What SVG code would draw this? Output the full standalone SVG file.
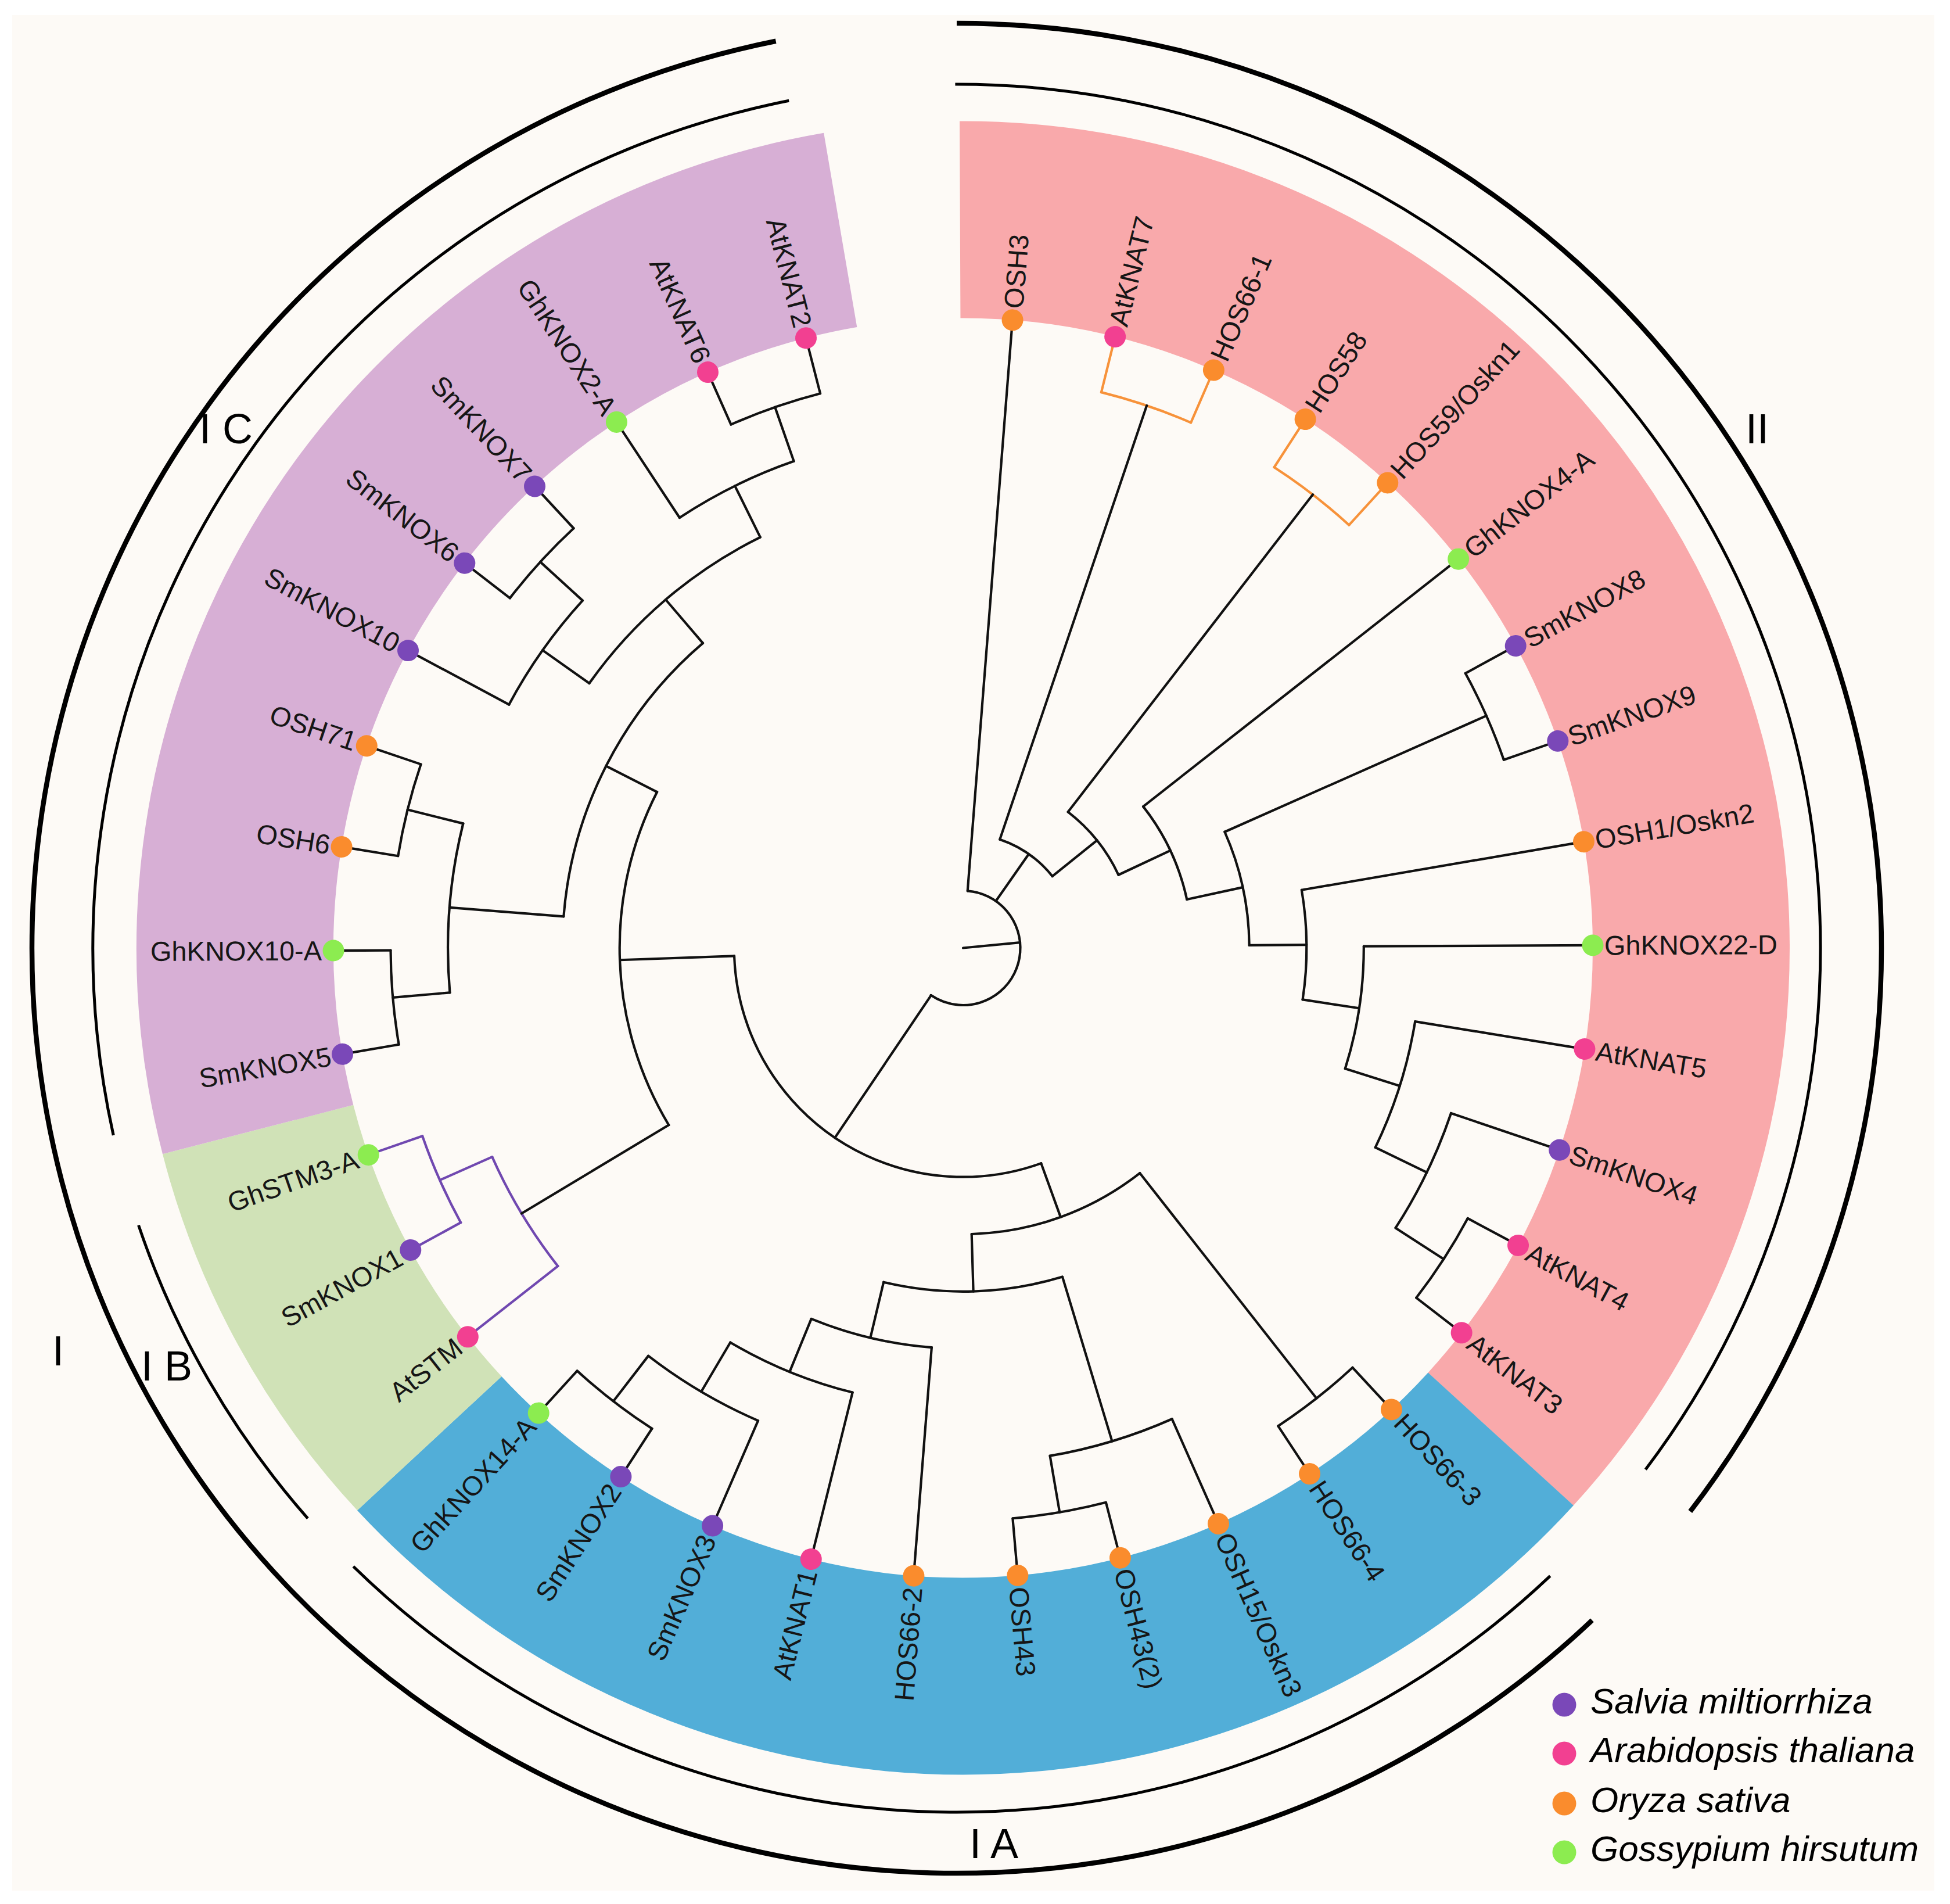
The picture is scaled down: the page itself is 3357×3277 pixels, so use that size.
<svg xmlns="http://www.w3.org/2000/svg" width="3357" height="3277" viewBox="0 0 3357 3277">
<style>
.br line,.br circle{fill:none;stroke:#111;stroke-width:4.2;stroke-linecap:round}
.br .or{stroke:#f7923a}
.br .pu{stroke:#7048b0}
.band{fill:none;stroke-width:339}
.ring{fill:none;stroke:#000}
.lb{font-family:'Liberation Sans',Arial,sans-serif;font-size:47px;fill:#161616;dominant-baseline:central}
.l{text-anchor:end}
.cl{font-family:'Liberation Sans',Arial,sans-serif;font-size:72px;fill:#000}
.lg{font-family:'Liberation Sans',Arial,sans-serif;font-size:62px;font-style:italic;fill:#000}
.sp{fill:#7a48b8}.at{fill:#f24091}.os{fill:#fa8c2d}.gh{fill:#8cec50}
</style>
<rect width="3357" height="3277" fill="#ffffff"/>
<rect x="21" y="26" width="3309" height="3228" fill="#fdfaf6"/>
<g id="bands" transform="translate(1658 1631.5)">
<circle class="band" r="1253.5" stroke="#f9a9ab" transform="rotate(-90.24)" stroke-dasharray="2901.9 99999"/>
<circle class="band" r="1253.5" stroke="#52aed8" transform="rotate(42.40)" stroke-dasharray="2072.5 99999"/>
<circle class="band" r="1253.5" stroke="#d0e2b7" transform="rotate(137.13)" stroke-dasharray="622.0 99999"/>
<circle class="band" r="1253.5" stroke="#d7afd5" transform="rotate(165.56)" stroke-dasharray="2072.5 99999"/>
</g>
<g id="rings" transform="translate(1647 1632)">
<circle class="ring" r="1592" stroke-width="8.5" transform="rotate(-90)" stroke-dasharray="3542.7 99999"/>
<circle class="ring" r="1592" stroke-width="8.5" transform="rotate(46.6)" stroke-dasharray="5893.4 99999"/>
<circle class="ring" r="1487" stroke-width="5" transform="rotate(-90.1)" stroke-dasharray="3301.2 99999"/>
<circle class="ring" r="1487" stroke-width="5" transform="rotate(46.6)" stroke-dasharray="2276.1 99999"/>
<circle class="ring" r="1487" stroke-width="5" transform="rotate(138.7)" stroke-dasharray="586.5 99999"/>
<circle class="ring" r="1487" stroke-width="5" transform="rotate(167.5)" stroke-dasharray="2369.5 99999"/>
</g>
<g id="clade-labels">
<text class="cl" x="3025" y="763" text-anchor="middle">II</text>
<text class="cl" x="1669" y="3198">I A</text>
<text class="cl" x="243" y="2376">I B</text>
<text class="cl" x="343" y="763">I C</text>
<text class="cl" x="90" y="2350">I</text>
</g>
<g id="connectors" class="br" transform="translate(1658 1631.5)">
<circle r="98.5" transform="rotate(-85.5)" stroke-dasharray="360.2 99999"/>
<circle r="197.1" transform="rotate(-71.29)" stroke-dasharray="111.87 99999"/>
<circle class="or" r="985.5" transform="rotate(-76.03)" stroke-dasharray="162.95 99999"/>
<circle r="295.6" transform="rotate(-52.35)" stroke-dasharray="140.17 99999"/>
<circle class="or" r="985.5" transform="rotate(-57.08)" stroke-dasharray="162.95 99999"/>
<circle r="394.2" transform="rotate(-38.13)" stroke-dasharray="178.19 99999"/>
<circle r="492.7" transform="rotate(-23.92)" stroke-dasharray="201.13 99999"/>
<circle r="985.5" transform="rotate(-28.66)" stroke-dasharray="162.95 99999"/>
<circle r="591.3" transform="rotate(-9.71)" stroke-dasharray="189.48 99999"/>
<circle r="689.8" transform="rotate(-0.24)" stroke-dasharray="213.94 99999"/>
<circle r="788.4" transform="rotate(9.24)" stroke-dasharray="228.14 99999"/>
<circle r="886.9" transform="rotate(18.71)" stroke-dasharray="219.96 99999"/>
<circle r="985.5" transform="rotate(28.18)" stroke-dasharray="162.95 99999"/>
<circle r="394.2" transform="rotate(70.08)" stroke-dasharray="742.42 99999"/>
<circle r="492.7" transform="rotate(51.87)" stroke-dasharray="313.18 99999"/>
<circle r="985.5" transform="rotate(47.13)" stroke-dasharray="162.95 99999"/>
<circle r="591.3" transform="rotate(73.19)" stroke-dasharray="311.56 99999"/>
<circle r="886.9" transform="rotate(66.08)" stroke-dasharray="219.96 99999"/>
<circle r="985.5" transform="rotate(75.55)" stroke-dasharray="162.95 99999"/>
<circle r="689.8" transform="rotate(94.50)" stroke-dasharray="213.82 99999"/>
<circle r="788.4" transform="rotate(103.97)" stroke-dasharray="228.14 99999"/>
<circle r="886.9" transform="rotate(113.45)" stroke-dasharray="219.96 99999"/>
<circle r="985.5" transform="rotate(122.92)" stroke-dasharray="162.95 99999"/>
<circle r="591.3" transform="rotate(148.98)" stroke-dasharray="598.77 99999"/>
<circle class="pu" r="886.9" transform="rotate(141.87)" stroke-dasharray="219.96 99999"/>
<circle class="pu" r="985.5" transform="rotate(151.34)" stroke-dasharray="162.95 99999"/>
<circle r="689.8" transform="rotate(184.50)" stroke-dasharray="541.77 99999"/>
<circle r="886.9" transform="rotate(175.03)" stroke-dasharray="293.18 99999"/>
<circle r="985.5" transform="rotate(170.29)" stroke-dasharray="162.95 99999"/>
<circle r="985.5" transform="rotate(189.24)" stroke-dasharray="162.95 99999"/>
<circle r="788.4" transform="rotate(215.29)" stroke-dasharray="391.06 99999"/>
<circle r="886.9" transform="rotate(208.18)" stroke-dasharray="219.96 99999"/>
<circle r="985.5" transform="rotate(217.66)" stroke-dasharray="162.95 99999"/>
<circle r="886.9" transform="rotate(236.61)" stroke-dasharray="219.96 99999"/>
<circle r="985.5" transform="rotate(246.08)" stroke-dasharray="162.95 99999"/>
<line x1="0" x2="98.5" transform="rotate(-5.5)"/>
<line x1="98.5" x2="1084" transform="rotate(-85.5)"/>
<line x1="98.5" x2="197.1" transform="rotate(-55.03)"/>
<line x1="98.5" x2="394.2" transform="rotate(124.04)"/>
<line x1="197.1" x2="985.5" transform="rotate(-71.29)"/>
<line x1="197.1" x2="295.6" transform="rotate(-38.77)"/>
<line class="or" x1="985.5" x2="1084" transform="rotate(-76.03)"/>
<line class="or" x1="985.5" x2="1084" transform="rotate(-66.55)"/>
<line x1="295.6" x2="985.5" transform="rotate(-52.35)"/>
<line x1="295.6" x2="394.2" transform="rotate(-25.18)"/>
<line class="or" x1="985.5" x2="1084" transform="rotate(-57.08)"/>
<line class="or" x1="985.5" x2="1084" transform="rotate(-47.61)"/>
<line x1="394.2" x2="1084" transform="rotate(-38.13)"/>
<line x1="394.2" x2="492.7" transform="rotate(-12.23)"/>
<line x1="492.7" x2="985.5" transform="rotate(-23.92)"/>
<line x1="492.7" x2="591.3" transform="rotate(-0.53)"/>
<line x1="985.5" x2="1084" transform="rotate(-28.66)"/>
<line x1="985.5" x2="1084" transform="rotate(-19.18)"/>
<line x1="591.3" x2="1084" transform="rotate(-9.71)"/>
<line x1="591.3" x2="689.8" transform="rotate(8.65)"/>
<line x1="689.8" x2="1084" transform="rotate(-0.24)"/>
<line x1="689.8" x2="788.4" transform="rotate(17.53)"/>
<line x1="788.4" x2="1084" transform="rotate(9.24)"/>
<line x1="788.4" x2="886.9" transform="rotate(25.82)"/>
<line x1="886.9" x2="1084" transform="rotate(18.71)"/>
<line x1="886.9" x2="985.5" transform="rotate(32.92)"/>
<line x1="985.5" x2="1084" transform="rotate(28.18)"/>
<line x1="985.5" x2="1084" transform="rotate(37.66)"/>
<line x1="394.2" x2="492.7" transform="rotate(70.08)"/>
<line x1="394.2" x2="591.3" transform="rotate(177.99)"/>
<line x1="492.7" x2="985.5" transform="rotate(51.87)"/>
<line x1="985.5" x2="1084" transform="rotate(47.13)"/>
<line x1="985.5" x2="1084" transform="rotate(56.61)"/>
<line x1="492.7" x2="591.3" transform="rotate(88.29)"/>
<line x1="591.3" x2="886.9" transform="rotate(73.19)"/>
<line x1="591.3" x2="689.8" transform="rotate(103.38)"/>
<line x1="886.9" x2="1084" transform="rotate(66.08)"/>
<line x1="886.9" x2="985.5" transform="rotate(80.29)"/>
<line x1="985.5" x2="1084" transform="rotate(75.55)"/>
<line x1="985.5" x2="1084" transform="rotate(85.03)"/>
<line x1="689.8" x2="1084" transform="rotate(94.50)"/>
<line x1="689.8" x2="788.4" transform="rotate(112.26)"/>
<line x1="788.4" x2="1084" transform="rotate(103.97)"/>
<line x1="788.4" x2="886.9" transform="rotate(120.55)"/>
<line x1="886.9" x2="1084" transform="rotate(113.45)"/>
<line x1="886.9" x2="985.5" transform="rotate(127.66)"/>
<line x1="985.5" x2="1084" transform="rotate(122.92)"/>
<line x1="985.5" x2="1084" transform="rotate(132.39)"/>
<line x1="591.3" x2="886.9" transform="rotate(148.98)"/>
<line x1="591.3" x2="689.8" transform="rotate(207.0)"/>
<line class="pu" x1="886.9" x2="1084" transform="rotate(141.87)"/>
<line class="pu" x1="886.9" x2="985.5" transform="rotate(156.08)"/>
<line class="pu" x1="985.5" x2="1084" transform="rotate(151.34)"/>
<line class="pu" x1="985.5" x2="1084" transform="rotate(160.82)"/>
<line x1="689.8" x2="886.9" transform="rotate(184.50)"/>
<line x1="689.8" x2="788.4" transform="rotate(229.50)"/>
<line x1="886.9" x2="985.5" transform="rotate(175.03)"/>
<line x1="886.9" x2="985.5" transform="rotate(193.97)"/>
<line x1="985.5" x2="1084" transform="rotate(170.29)"/>
<line x1="985.5" x2="1084" transform="rotate(179.76)"/>
<line x1="985.5" x2="1084" transform="rotate(189.24)"/>
<line x1="985.5" x2="1084" transform="rotate(198.71)"/>
<line x1="788.4" x2="886.9" transform="rotate(215.29)"/>
<line x1="788.4" x2="886.9" transform="rotate(243.71)"/>
<line x1="886.9" x2="1084" transform="rotate(208.18)"/>
<line x1="886.9" x2="985.5" transform="rotate(222.39)"/>
<line x1="985.5" x2="1084" transform="rotate(217.66)"/>
<line x1="985.5" x2="1084" transform="rotate(227.13)"/>
<line x1="886.9" x2="1084" transform="rotate(236.61)"/>
<line x1="886.9" x2="985.5" transform="rotate(250.82)"/>
<line x1="985.5" x2="1084" transform="rotate(246.08)"/>
<line x1="985.5" x2="1084" transform="rotate(255.55)"/>
</g>
<g id="tips" transform="translate(1658 1631.5)">
<g id="OSH3" transform="rotate(-85.5)"><circle class="os" cx="1084" r="18.5"/><text class="lb" x="1104">OSH3</text></g>
<g id="AtKNAT7" transform="rotate(-76.03)"><circle class="at" cx="1084" r="18.5"/><text class="lb" x="1104">AtKNAT7</text></g>
<g id="HOS66-1" transform="rotate(-66.55)"><circle class="os" cx="1084" r="18.5"/><text class="lb" x="1104">HOS66-1</text></g>
<g id="HOS58" transform="rotate(-57.08)"><circle class="os" cx="1084" r="18.5"/><text class="lb" x="1104">HOS58</text></g>
<g id="HOS59" transform="rotate(-47.61)"><circle class="os" cx="1084" r="18.5"/><text class="lb" x="1104">HOS59/Oskn1</text></g>
<g id="GhKNOX4-A" transform="rotate(-38.13)"><circle class="gh" cx="1084" r="18.5"/><text class="lb" x="1104">GhKNOX4-A</text></g>
<g id="SmKNOX8" transform="rotate(-28.66)"><circle class="sp" cx="1084" r="18.5"/><text class="lb" x="1104">SmKNOX8</text></g>
<g id="SmKNOX9" transform="rotate(-19.18)"><circle class="sp" cx="1084" r="18.5"/><text class="lb" x="1104">SmKNOX9</text></g>
<g id="OSH1" transform="rotate(-9.71)"><circle class="os" cx="1084" r="18.5"/><text class="lb" x="1104">OSH1/Oskn2</text></g>
<g id="GhKNOX22-D" transform="rotate(-0.24)"><circle class="gh" cx="1084" r="18.5"/><text class="lb" x="1104">GhKNOX22-D</text></g>
<g id="AtKNAT5" transform="rotate(9.24)"><circle class="at" cx="1084" r="18.5"/><text class="lb" x="1104">AtKNAT5</text></g>
<g id="SmKNOX4" transform="rotate(18.71)"><circle class="sp" cx="1084" r="18.5"/><text class="lb" x="1104">SmKNOX4</text></g>
<g id="AtKNAT4" transform="rotate(28.18)"><circle class="at" cx="1084" r="18.5"/><text class="lb" x="1104">AtKNAT4</text></g>
<g id="AtKNAT3" transform="rotate(37.66)"><circle class="at" cx="1084" r="18.5"/><text class="lb" x="1104">AtKNAT3</text></g>
<g id="HOS66-3" transform="rotate(47.13)"><circle class="os" cx="1084" r="18.5"/><text class="lb" x="1104">HOS66-3</text></g>
<g id="HOS66-4" transform="rotate(56.61)"><circle class="os" cx="1084" r="18.5"/><text class="lb" x="1104">HOS66-4</text></g>
<g id="OSH15" transform="rotate(66.08)"><circle class="os" cx="1084" r="18.5"/><text class="lb" x="1104">OSH15/Oskn3</text></g>
<g id="OSH43-2" transform="rotate(75.55)"><circle class="os" cx="1084" r="18.5"/><text class="lb" x="1104">OSH43(2)</text></g>
<g id="OSH43" transform="rotate(85.03)"><circle class="os" cx="1084" r="18.5"/><text class="lb" x="1104">OSH43</text></g>
<g id="HOS66-2" transform="rotate(94.50)"><circle class="os" cx="1084" r="18.5"/><text class="lb l" transform="translate(1104 0) rotate(180)">HOS66-2</text></g>
<g id="AtKNAT1" transform="rotate(103.97)"><circle class="at" cx="1084" r="18.5"/><text class="lb l" transform="translate(1104 0) rotate(180)">AtKNAT1</text></g>
<g id="SmKNOX3" transform="rotate(113.45)"><circle class="sp" cx="1084" r="18.5"/><text class="lb l" transform="translate(1104 0) rotate(180)">SmKNOX3</text></g>
<g id="SmKNOX2" transform="rotate(122.92)"><circle class="sp" cx="1084" r="18.5"/><text class="lb l" transform="translate(1104 0) rotate(180)">SmKNOX2</text></g>
<g id="GhKNOX14-A" transform="rotate(132.39)"><circle class="gh" cx="1084" r="18.5"/><text class="lb l" transform="translate(1104 0) rotate(180)">GhKNOX14-A</text></g>
<g id="AtSTM" transform="rotate(141.87)"><circle class="at" cx="1084" r="18.5"/><text class="lb l" transform="translate(1104 0) rotate(180)">AtSTM</text></g>
<g id="SmKNOX1" transform="rotate(151.34)"><circle class="sp" cx="1084" r="18.5"/><text class="lb l" transform="translate(1104 0) rotate(180)">SmKNOX1</text></g>
<g id="GhSTM3-A" transform="rotate(160.82)"><circle class="gh" cx="1084" r="18.5"/><text class="lb l" transform="translate(1104 0) rotate(180)">GhSTM3-A</text></g>
<g id="SmKNOX5" transform="rotate(170.29)"><circle class="sp" cx="1084" r="18.5"/><text class="lb l" transform="translate(1104 0) rotate(180)">SmKNOX5</text></g>
<g id="GhKNOX10-A" transform="rotate(179.76)"><circle class="gh" cx="1084" r="18.5"/><text class="lb l" transform="translate(1104 0) rotate(180)">GhKNOX10-A</text></g>
<g id="OSH6" transform="rotate(189.24)"><circle class="os" cx="1084" r="18.5"/><text class="lb l" transform="translate(1104 0) rotate(180)">OSH6</text></g>
<g id="OSH71" transform="rotate(198.71)"><circle class="os" cx="1084" r="18.5"/><text class="lb l" transform="translate(1104 0) rotate(180)">OSH71</text></g>
<g id="SmKNOX10" transform="rotate(208.18)"><circle class="sp" cx="1084" r="18.5"/><text class="lb l" transform="translate(1104 0) rotate(180)">SmKNOX10</text></g>
<g id="SmKNOX6" transform="rotate(217.66)"><circle class="sp" cx="1084" r="18.5"/><text class="lb l" transform="translate(1104 0) rotate(180)">SmKNOX6</text></g>
<g id="SmKNOX7" transform="rotate(227.13)"><circle class="sp" cx="1084" r="18.5"/><text class="lb l" transform="translate(1104 0) rotate(180)">SmKNOX7</text></g>
<g id="GhKNOX2-A" transform="rotate(236.61)"><circle class="gh" cx="1084" r="18.5"/><text class="lb l" transform="translate(1104 0) rotate(180)">GhKNOX2-A</text></g>
<g id="AtKNAT6" transform="rotate(246.08)"><circle class="at" cx="1084" r="18.5"/><text class="lb l" transform="translate(1104 0) rotate(180)">AtKNAT6</text></g>
<g id="AtKNAT2" transform="rotate(255.55)"><circle class="at" cx="1084" r="18.5"/><text class="lb l" transform="translate(1104 0) rotate(180)">AtKNAT2</text></g>
</g>
<g id="legend">
<circle class="sp" cx="2693" cy="2934" r="20.5"/><text class="lg" x="2738" y="2949">Salvia miltiorrhiza</text>
<circle class="at" cx="2693" cy="3018" r="20.5"/><text class="lg" x="2738" y="3033">Arabidopsis thaliana</text>
<circle class="os" cx="2693" cy="3104" r="20.5"/><text class="lg" x="2738" y="3119">Oryza sativa</text>
<circle class="gh" cx="2693" cy="3188" r="20.5"/><text class="lg" x="2738" y="3203">Gossypium hirsutum</text>
</g>
</svg>
